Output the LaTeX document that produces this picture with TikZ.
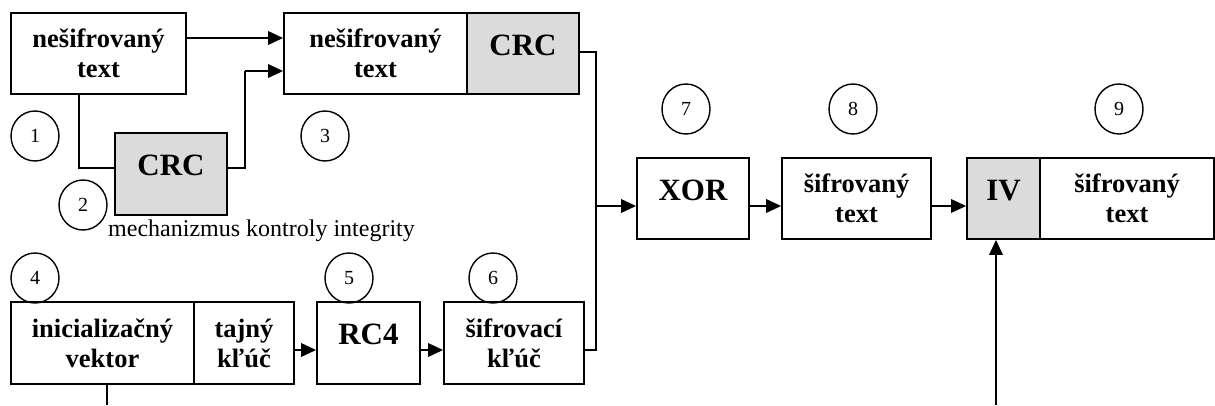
\documentclass[tikz,border=0pt]{standalone}
\usepackage{fontspec}
\setmainfont{Liberation Serif}
\usetikzlibrary{arrows.meta}
\tikzset{
  box/.style={draw, line width=1.8pt, inner sep=0pt, align=center,
    font=\bfseries\fontsize{26.5}{30}\selectfont},
  bigbox/.style={draw, line width=1.8pt, inner sep=0pt, align=center,
    font=\bfseries\fontsize{31}{36}\selectfont, text height=21pt, text depth=18pt},
  shaded/.style={fill=black!14},
  num/.style={draw, ellipse, line width=1.4pt, minimum width=48pt, minimum height=50pt, inner sep=0pt,
    font=\fontsize{20}{22}\selectfont},
  conn/.style={line width=1.8pt},
  arr/.style={line width=1.8pt, -{Triangle[length=15pt,width=13.5pt]}},
}
\usetikzlibrary{shapes.geometric}
\begin{document}
\begin{tikzpicture}[x=1pt,y=-1pt]
\useasboundingbox (0,0) rectangle (1215,405);
% boxes
\node[box, minimum width=175pt, minimum height=81pt] (A) at (98.5,53.5) {nešifrovaný\\text};
\node[box, minimum width=183pt, minimum height=81pt] (B) at (375.5,53.5) {nešifrovaný\\text};
\node[bigbox, shaded, minimum width=112pt, minimum height=81pt] (Bc) at (523,53.5) {CRC};
\node[bigbox, shaded, minimum width=112pt, minimum height=82pt] (C) at (171,174) {CRC};
\node[box, minimum width=183pt, minimum height=82pt] (iv) at (102.5,343) {inicializačný\\vektor};
\node[box, minimum width=100pt, minimum height=82pt] (key) at (244,343) {tajný\\kľúč};
\node[bigbox, minimum width=103pt, minimum height=82pt] (rc) at (368.5,343) {RC4};
\node[box, minimum width=140pt, minimum height=82pt] (sk) at (514,343) {šifrovací\\kľúč};
\node[bigbox, minimum width=112pt, minimum height=81pt] (xor) at (693,198.5) {XOR};
\node[box, minimum width=149pt, minimum height=81pt] (s8) at (856.5,198.5) {šifrovaný\\text};
\node[bigbox, shaded, minimum width=73pt, minimum height=81pt] (IV) at (1003.5,198.5) {IV};
\node[box, minimum width=174pt, minimum height=81pt] (s9) at (1127,198.5) {šifrovaný\\text};
% label
\node[anchor=base west, inner sep=0pt, font=\fontsize{24}{26}\selectfont] (mech) at (108,236) {mechanizmus kontroly integrity};
% numbered circles
\node[num] (c1) at (35,136) {1};
\node[num] (c2) at (83,205) {2};
\node[num] (c3) at (325,136) {3};
\node[num] (c4) at (35,278) {4};
\node[num] (c5) at (349,278) {5};
\node[num] (c6) at (493,278) {6};
\node[num] (c7) at (686,109) {7};
\node[num] (c8) at (853,109) {8};
\node[num] (c9) at (1119,109) {9};
% connectors
\coordinate (k1) at (245,71);
\coordinate (j) at (596,206);
\coordinate (ivin) at (996,405);
\coordinate (ivout) at (107,405);
\draw[arr] ([yshift=15.5pt]A.east) -- ([yshift=15.5pt]B.west);
\draw[conn] ([xshift=-19.5pt]A.south) |- ([yshift=6pt]C.west);
\draw[conn] ([yshift=6pt]C.east) -| (k1);
\draw[arr] (k1) -- ([yshift=-17.5pt]B.west);
\draw[conn] ([yshift=1.5pt]Bc.east) -| (j);
\draw[conn] ([yshift=-7pt]sk.east) -| (j);
\draw[arr] (j) -- ([yshift=-7.5pt]xor.west);
\draw[arr] ([yshift=-7pt]key.east) -- ([yshift=-7pt]rc.west);
\draw[arr] ([yshift=-7pt]rc.east) -- ([yshift=-7pt]sk.west);
\draw[arr] ([yshift=-7.5pt]xor.east) -- ([yshift=-7.5pt]s8.west);
\draw[arr] ([yshift=-7.5pt]s8.east) -- ([yshift=-7.5pt]IV.west);
\draw[arr] (ivin) -- (ivin |- IV.south);
\draw[conn] (iv.south -| ivout) -- (ivout);
\end{tikzpicture}
\end{document}
